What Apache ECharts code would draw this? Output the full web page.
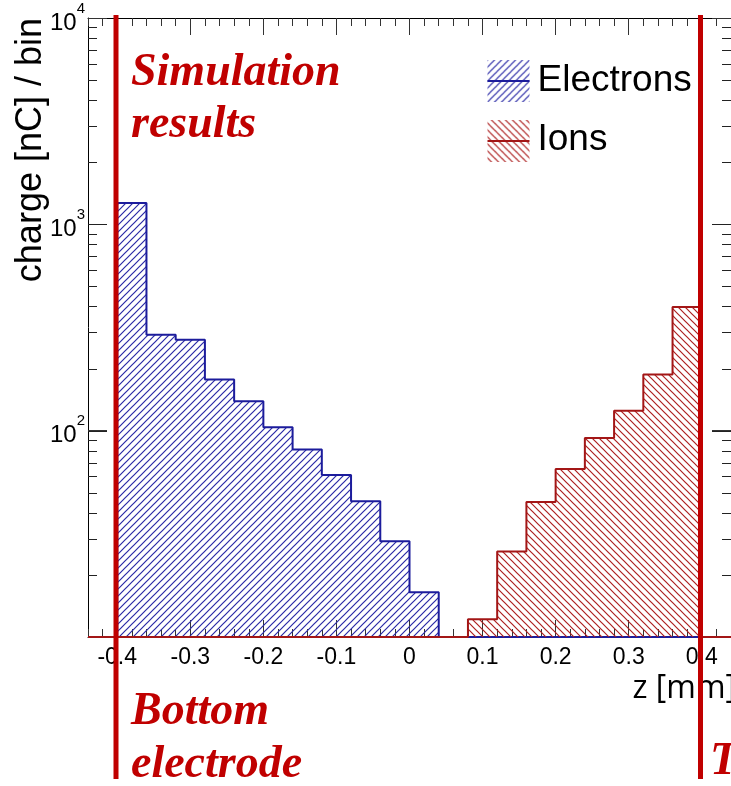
<!DOCTYPE html>
<html>
<head>
<meta charset="utf-8">
<script src="https://cdn.jsdelivr.net/npm/echarts@6/dist/echarts.min.js"></script>
<style>
  html, body { margin: 0; padding: 0; background: #fff; }
  #chart { width: 731px; height: 786px; }
</style>
</head>
<body>
<div id="chart"></div>
<script>
// Charge per bin along z, electrons and ions (0.04 mm bins, lower bin edges given)
const seriesNames = ['Electrons', 'Ions'];
const electronBinLow = [-0.40, -0.36, -0.32, -0.28, -0.24, -0.20, -0.16, -0.12, -0.08, -0.04, 0.00];
const electronCharge = [1270, 292, 276, 177, 139, 104, 81, 61, 45.5, 29.1, 16.5];
const ionBinLow = [0.08, 0.12, 0.16, 0.20, 0.24, 0.28, 0.32, 0.36];
const ionCharge = [12.2, 26.0, 45.1, 65.2, 92.2, 125, 187, 397];
const binWidth = 0.04;
const zTickLabels = [-0.4, -0.3, -0.2, -0.1, 0, 0.1, 0.2, 0.3, 0.4];
const yMajorTicks = [100, 1000];
const yMinorTicks = [20, 30, 40, 50, 60, 70, 80, 90, 200, 300, 400, 500, 600, 700, 800, 900,
                     2000, 3000, 4000, 5000, 6000, 7000, 8000, 9000];

// Axis ranges
const Z_MIN = -0.44, Z_MAX = 0.44;
const Q_MIN = 10, Q_MAX = 10000;

const BLUE_LINE = '#1c1c9c';
const BLUE_HATCH = '#2a2aa6';
const RED_LINE = '#a31616';
const RED_HATCH = '#ad2020';
const NOTE_RED = '#c00000';
const SANS = '"Liberation Sans", Arial, sans-serif';
const SERIF = '"Liberation Serif", "Times New Roman", serif';

// Diagonal hatch tile: '/' for forward, '\' for backward
function hatch(color, forward) {
  const s = 7;
  const c = document.createElement('canvas');
  c.width = s; c.height = s;
  const g = c.getContext('2d');
  g.strokeStyle = color;
  g.lineWidth = 1.2;
  g.beginPath();
  if (forward) {
    g.moveTo(-1, s + 1); g.lineTo(s + 1, -1);
    g.moveTo(-1, 1); g.lineTo(1, -1);
    g.moveTo(s - 1, s + 1); g.lineTo(s + 1, s - 1);
  } else {
    g.moveTo(-1, -1); g.lineTo(s + 1, s + 1);
    g.moveTo(s - 1, -1); g.lineTo(s + 1, 1);
    g.moveTo(-1, s - 1); g.lineTo(1, s + 1);
  }
  g.stroke();
  return { image: c, repeat: 'repeat' };
}
const electronFill = hatch(BLUE_HATCH, true);
const ionFill = hatch(RED_HATCH, false);

// Histogram outline as a closed step path along the bottom of the frame
function stepOutline(lows, values) {
  const pts = [[Z_MIN, Q_MIN], [lows[0], Q_MIN]];
  lows.forEach((lo, i) => {
    pts.push([lo, values[i]], [lo + binWidth, values[i]]);
  });
  pts.push([lows[lows.length - 1] + binWidth, Q_MIN], [Z_MAX, Q_MIN]);
  return pts;
}

const chart = echarts.init(document.getElementById('chart'), null, { renderer: 'canvas' });

const tickColor = '#000';
const tickStyle = { color: '#333', width: 1 };

function xAxisBase(pos) {
  return {
    type: 'value', position: pos, min: Z_MIN, max: Z_MAX,
    splitLine: { show: false }
  };
}

const option = {
  animation: false,
  backgroundColor: '#fff',
  grid: { left: 88, right: -2, top: 18, bottom: 149, containLabel: false },
  xAxis: [
    Object.assign(xAxisBase('bottom'), {
      interval: 0.02,
      axisLine: { show: true, onZero: false, lineStyle: { color: tickColor, width: 1 } },
      axisTick: { show: true, inside: true, length: 8, lineStyle: tickStyle },
      axisLabel: { show: false }
    }),
    Object.assign(xAxisBase('bottom'), {
      axisLine: { show: false, onZero: false },
      axisTick: { show: true, inside: true, length: 17, customValues: zTickLabels, lineStyle: tickStyle },
      axisLabel: {
        show: true, customValues: zTickLabels, margin: 9,
        fontFamily: SANS, fontSize: 23, color: '#000',
        formatter: v => String(Math.round(v * 10) / 10)
      }
    }),
    Object.assign(xAxisBase('top'), {
      interval: 0.02,
      axisLine: { show: true, onZero: false, lineStyle: { color: tickColor, width: 1 } },
      axisTick: { show: true, inside: true, length: 8, lineStyle: tickStyle },
      axisLabel: { show: false }
    }),
    Object.assign(xAxisBase('top'), {
      axisLine: { show: false, onZero: false },
      axisTick: { show: true, inside: true, length: 17, customValues: zTickLabels, lineStyle: tickStyle },
      axisLabel: { show: false }
    })
  ],
  yAxis: [
    {
      type: 'log', logBase: 10, min: Q_MIN, max: Q_MAX, position: 'left',
      splitLine: { show: false },
      axisLine: { show: true, onZero: false, lineStyle: { color: tickColor, width: 1 } },
      axisTick: { show: true, inside: true, length: 19, lineStyle: tickStyle },
      axisLabel: {
        show: true, margin: 3,
        formatter: v => {
          const e = Math.round(Math.log10(v));
          return e <= 1 ? '' : '{b|10}{s|' + e + '}';
        },
        rich: {
          b: { fontFamily: SANS, fontSize: 24, color: '#000', lineHeight: 24, verticalAlign: 'bottom' },
          s: { fontFamily: SANS, fontSize: 15, color: '#000', lineHeight: 34, verticalAlign: 'top' }
        }
      }
    },
    {
      type: 'log', logBase: 10, min: Q_MIN, max: Q_MAX, position: 'right',
      splitLine: { show: false },
      axisLine: { show: true, onZero: false, lineStyle: { color: tickColor, width: 1 } },
      axisTick: { show: true, inside: true, length: 19, lineStyle: tickStyle },
      axisLabel: { show: false }
    }
  ],
  series: [
    {
      name: seriesNames[0], type: 'line', xAxisIndex: 0, yAxisIndex: 0,
      data: stepOutline(electronBinLow, electronCharge),
      symbol: 'none', clip: false,
      lineStyle: { color: BLUE_LINE, width: 2 },
      areaStyle: { color: electronFill, origin: 'start', opacity: 1 },
      z: 2
    },
    {
      name: seriesNames[1], type: 'line', xAxisIndex: 0, yAxisIndex: 0,
      data: stepOutline(ionBinLow, ionCharge),
      symbol: 'none', clip: false,
      lineStyle: { color: RED_LINE, width: 2 },
      areaStyle: { color: ionFill, origin: 'start', opacity: 1 },
      z: 3
    },
    {
      // tick marks of the logarithmic axis on both frame sides (long: decades, short: 2..9)
      name: 'log ticks', type: 'custom', xAxisIndex: 0, yAxisIndex: 0,
      data: yMajorTicks.map(v => [0, v, 19]).concat(yMinorTicks.map(v => [0, v, 9])),
      silent: true, z: 4,
      renderItem: (params, api) => {
        const cs = params.coordSys;
        const y = Math.round(api.coord([0, api.value(1)])[1]) + 0.5;
        const len = api.value(2);
        const st = { stroke: '#222', lineWidth: 1 };
        return {
          type: 'group',
          children: [
            { type: 'line', shape: { x1: cs.x, y1: y, x2: cs.x + len, y2: y }, style: st },
            { type: 'line', shape: { x1: cs.x + cs.width - len, y1: y, x2: cs.x + cs.width, y2: y }, style: st }
          ]
        };
      }
    }
  ],
  graphic: [
    // axis titles
    {
      type: 'text', x: 31, y: 18, rotation: Math.PI / 2, z: 10,
      style: { text: 'charge [nC] / bin', fill: '#000', font: '36px ' + SANS, align: 'right', verticalAlign: 'middle' }
    },
    {
      type: 'text', x: 736, y: 689, z: 10,
      style: { text: 'z [mm]', fill: '#000', font: '32px "Open Sans", ' + SANS, align: 'right', verticalAlign: 'middle' }
    },
    // legend
    {
      type: 'group', left: 485, top: 60, z: 10,
      children: [
        { type: 'rect', shape: { x: 0, y: 0, width: 42, height: 42 }, style: { fill: electronFill } },
        { type: 'line', shape: { x1: 0, y1: 21, x2: 42, y2: 21 }, style: { stroke: BLUE_LINE, lineWidth: 2 } },
        { type: 'text', x: 50, y: 21, style: { text: seriesNames[0], fill: '#000', font: '37px ' + SANS, verticalAlign: 'middle' } },
        { type: 'rect', shape: { x: 0, y: 60, width: 42, height: 42 }, style: { fill: ionFill } },
        { type: 'line', shape: { x1: 0, y1: 81, x2: 42, y2: 81 }, style: { stroke: RED_LINE, lineWidth: 2 } },
        { type: 'text', x: 50, y: 80, style: { text: seriesNames[1], fill: '#000', font: '37px ' + SANS, verticalAlign: 'middle' } }
      ]
    },
    // electrode markers and notes
    { type: 'rect', z: 20, shape: { x: 113.5, y: 15, width: 5, height: 764 }, style: { fill: NOTE_RED } },
    { type: 'rect', z: 20, shape: { x: 698, y: 15, width: 5, height: 764 }, style: { fill: NOTE_RED } },
    { type: 'text', z: 20, x: 131, y: 73, style: { text: 'Simulation', fill: NOTE_RED, font: 'italic bold 46px ' + SERIF, verticalAlign: 'middle' } },
    { type: 'text', z: 20, x: 131, y: 125, style: { text: 'results', fill: NOTE_RED, font: 'italic bold 46px ' + SERIF, verticalAlign: 'middle' } },
    { type: 'text', z: 20, x: 131, y: 712, style: { text: 'Bottom', fill: NOTE_RED, font: 'italic bold 46px ' + SERIF, verticalAlign: 'middle' } },
    { type: 'text', z: 20, x: 131, y: 765, style: { text: 'electrode', fill: NOTE_RED, font: 'italic bold 46px ' + SERIF, verticalAlign: 'middle' } },
    { type: 'text', z: 20, x: 710, y: 762, style: { text: 'Top electrode', fill: NOTE_RED, font: 'italic bold 46px ' + SERIF, verticalAlign: 'middle' } }
  ]
};

chart.setOption(option);
</script>
</body>
</html>
